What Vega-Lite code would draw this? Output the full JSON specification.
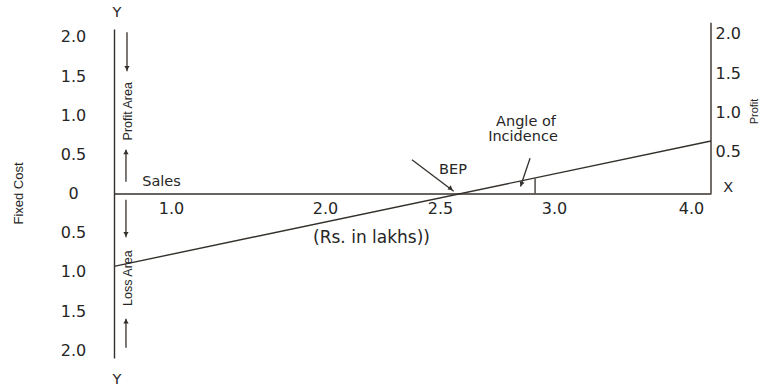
{
  "$schema": "https://vega.github.io/schema/vega-lite/v6.json",
  "width": 597,
  "height": 329,
  "autosize": "none",
  "padding": {"left": 114, "top": 29, "right": 50, "bottom": 29},
  "background": "#ffffff",
  "config": {"view": {"stroke": null}},
  "datasets": {
    "pv": [{"x": 0, "y": -0.93}, {"x": 4.15, "y": 0.67}],
    "rightaxis": [{"x": 4.15, "y": 0, "y2": 2.18}],
    "segs": [
      {"x": 0.228, "y": 2.06, "x2": 0.228, "y2": 1.56},
      {"x": 0.21, "y": 0.56, "x2": 0.21, "y2": 0.15},
      {"x": 0.21, "y": -0.08, "x2": 0.21, "y2": -0.56},
      {"x": 0.21, "y": -1.6, "x2": 0.21, "y2": -1.97},
      {"x": 2.378, "y": 0.43, "x2": 2.56, "y2": 0.03},
      {"x": 2.895, "y": 0.45, "x2": 2.853, "y2": 0.09},
      {"x": 2.917, "y": 0, "x2": 2.917, "y2": 0.19}
    ],
    "heads": [
      {"x": 0.228, "y": 1.6, "angle": 180},
      {"x": 0.21, "y": 0.53, "angle": 0},
      {"x": 0.21, "y": -0.52, "angle": 180},
      {"x": 0.21, "y": -1.63, "angle": 0},
      {"x": 2.548, "y": 0.06, "angle": 127},
      {"x": 2.857, "y": 0.12, "angle": 198}
    ],
    "labels": [
      {"x": 0.833, "y": 0.147, "text": "Sales"},
      {"x": 2.557, "y": 0.30, "text": "BEP"},
      {"x": 2.877, "y": 0.914, "text": "Angle of"},
      {"x": 2.864, "y": 0.722, "text": "Incidence"},
      {"x": 0.053, "y": 2.31, "text": "Y"},
      {"x": 0.053, "y": -2.38, "text": "Y"},
      {"x": 4.28, "y": 0.07, "text": "X"}
    ],
    "vlabels": [
      {"x": 0.246, "y": 1.05, "text": "Profit Area"},
      {"x": 0.246, "y": -1.08, "text": "Loss Area"}
    ]
  },
  "layer": [
    {
      "data": {"name": "pv"},
      "mark": {"type": "line", "color": "#34302c", "strokeWidth": 1.4},
      "encoding": {
        "x": {
          "field": "x", "type": "quantitative",
          "scale": {"domain": [0, 1, 2, 2.5, 3, 4, 4.15], "range": [0, 57, 211, 326, 440, 577, 597], "nice": false, "zero": false},
          "axis": {
            "offset": -164.5, "values": [1, 2, 2.5, 3, 4], "grid": false, "ticks": false, "tickSize": 0,
            "domainColor": "#34302c", "domainWidth": 1.4,
            "labelFont": "DejaVu Sans", "labelFontSize": 16, "labelColor": "#262626", "labelPadding": 7,
            "labelFlush": false, "labelOverlap": false,
            "title": "(Rs. in lakhs))", "titleFont": "DejaVu Sans", "titleFontSize": 17, "titleFontWeight": "normal", "titleColor": "#262626",
            "titleX": 257, "titleY": 43.5, "titleAlign": "center", "titleBaseline": "middle", "titleAngle": 0
          }
        },
        "y": {
          "field": "y", "type": "quantitative",
          "scale": {"domain": [-2.1, 2.1], "nice": false, "zero": false},
          "axis": {
            "orient": "left", "values": [-2, -1.5, -1, -0.5, 0, 0.5, 1, 1.5, 2], "grid": false, "ticks": false, "tickSize": 0,
            "labelExpr": "datum.value == 0 ? '0' : format(abs(datum.value), '.1f')",
            "domainColor": "#34302c", "domainWidth": 1.4,
            "labelFont": "DejaVu Sans", "labelFontSize": 16, "labelColor": "#262626", "labelPadding": 41, "labelAlign": "center",
            "labelOverlap": false,
            "title": "Fixed Cost", "titleFont": "Liberation Sans", "titleFontSize": 13, "titleFontWeight": "normal", "titleColor": "#262626",
            "titleX": -96, "titleY": 164, "titleAngle": 270, "titleAlign": "center", "titleBaseline": "middle"
          }
        }
      }
    },
    {
      "data": {"name": "rightaxis"},
      "mark": {"type": "rule", "color": "#34302c", "strokeWidth": 1.4},
      "encoding": {
        "x": {"field": "x", "type": "quantitative"},
        "y": {
          "field": "y", "type": "quantitative",
          "axis": {
            "orient": "right", "values": [0.5, 1, 1.5, 2], "grid": false, "ticks": false, "tickSize": 0, "domain": false,
            "labelFont": "DejaVu Sans", "labelFontSize": 16, "labelColor": "#262626", "labelPadding": 4, "labelAlign": "left",
            "labelOffset": -3, "labelOverlap": false, "format": ".1f",
            "title": "Profit", "titleFont": "Liberation Sans", "titleFontSize": 11, "titleFontWeight": "normal", "titleColor": "#262626",
            "titleX": 43, "titleY": 82, "titleAngle": 270, "titleAlign": "center", "titleBaseline": "middle"
          }
        },
        "y2": {"field": "y2"}
      }
    },
    {
      "data": {"name": "segs"},
      "mark": {"type": "rule", "color": "#34302c", "strokeWidth": 1.3},
      "encoding": {
        "x": {"field": "x", "type": "quantitative"},
        "x2": {"field": "x2"},
        "y": {"field": "y", "type": "quantitative", "axis": null},
        "y2": {"field": "y2"}
      }
    },
    {
      "data": {"name": "heads"},
      "mark": {"type": "point", "shape": "triangle-up", "filled": true, "color": "#34302c", "size": 28, "opacity": 1},
      "encoding": {
        "x": {"field": "x", "type": "quantitative"},
        "y": {"field": "y", "type": "quantitative", "axis": null},
        "angle": {"field": "angle", "type": "quantitative", "scale": null}
      }
    },
    {
      "data": {"name": "labels"},
      "mark": {"type": "text", "font": "DejaVu Sans", "fontSize": 14.5, "color": "#262626", "baseline": "middle", "align": "center"},
      "encoding": {
        "x": {"field": "x", "type": "quantitative"},
        "y": {"field": "y", "type": "quantitative", "axis": null},
        "text": {"field": "text"}
      }
    },
    {
      "data": {"name": "vlabels"},
      "mark": {"type": "text", "font": "Liberation Sans", "fontSize": 12.5, "color": "#262626", "baseline": "middle", "align": "center", "angle": 270},
      "encoding": {
        "x": {"field": "x", "type": "quantitative"},
        "y": {"field": "y", "type": "quantitative", "axis": null},
        "text": {"field": "text"}
      }
    }
  ],
  "resolve": {"axis": {"y": "independent"}}
}
